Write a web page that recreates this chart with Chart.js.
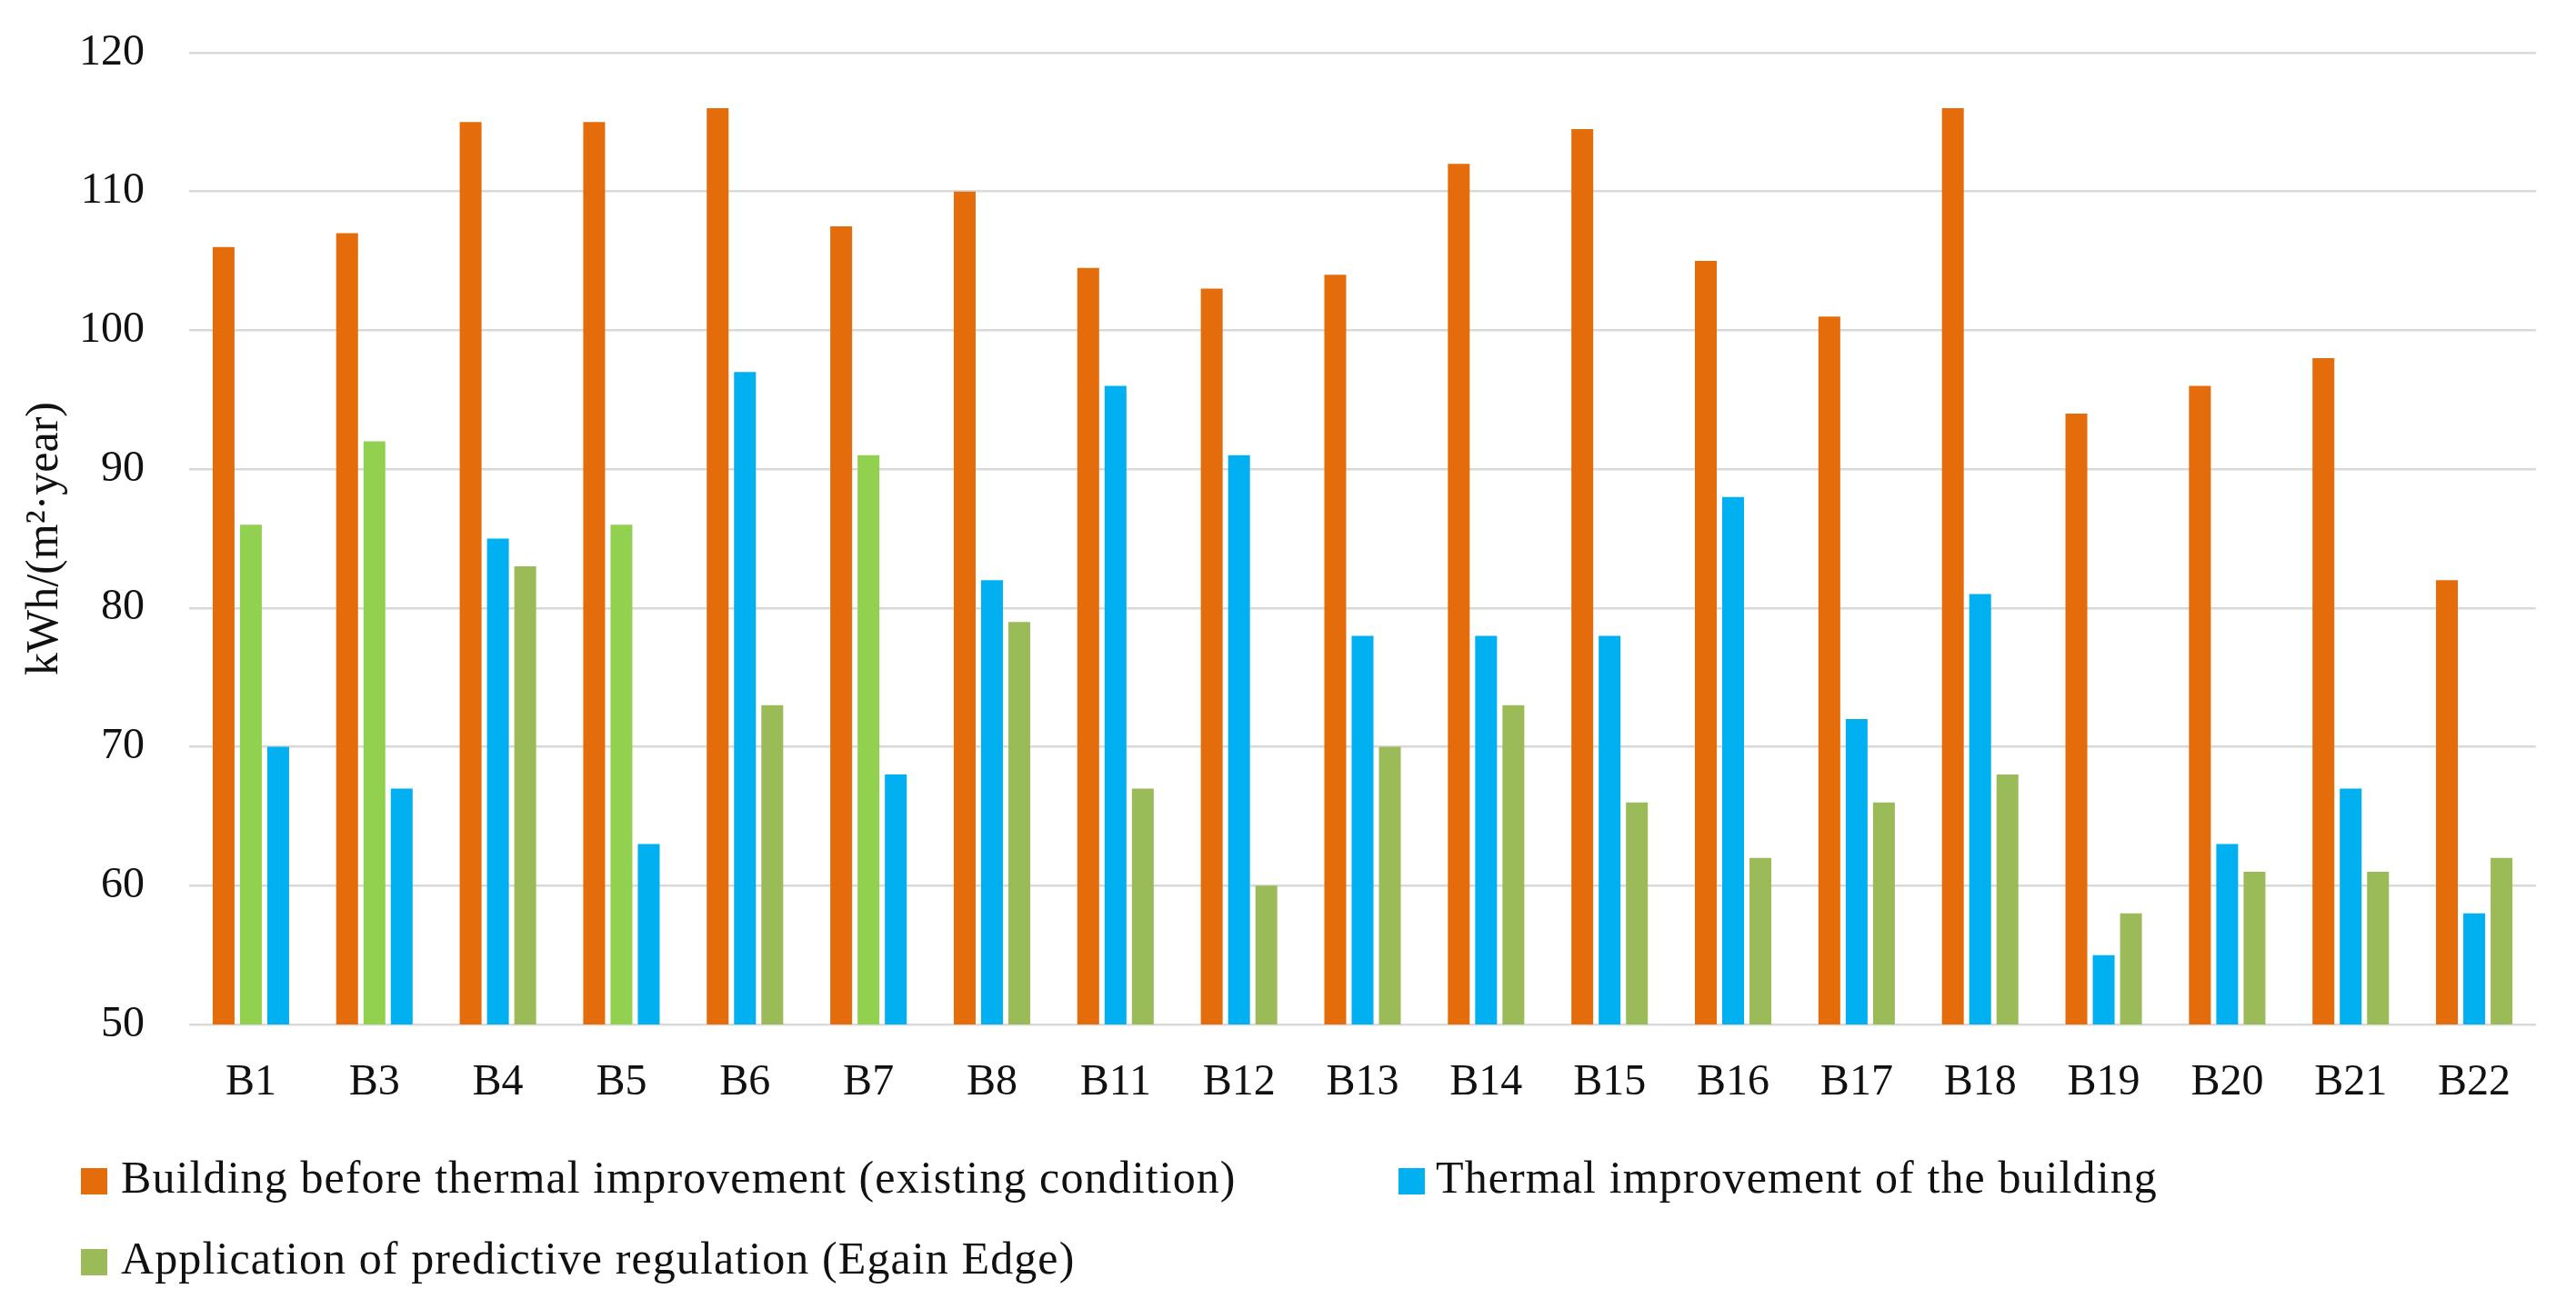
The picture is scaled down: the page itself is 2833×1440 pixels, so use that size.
<!DOCTYPE html>
<html>
<head>
<meta charset="utf-8">
<script src="https://cdn.jsdelivr.net/npm/chart.js@4.4.1/dist/chart.umd.min.js"></script>
<style>
  body { margin: 0; background: #fff; }
  #wrap { position: relative; width: 2833px; height: 1440px; }
  #chart { position: absolute; left: 0; top: 0; }
  .lg-box { position: absolute; width: 29px; height: 29px; }
  .lg-text { position: absolute; font-family: 'Liberation Serif', serif; font-size: 50px;
             line-height: 50px; letter-spacing: 1.1px; color: #111; white-space: nowrap; }
</style>
</head>
<body>
<div id="wrap">
  <canvas id="chart" width="2833" height="1440"></canvas>
  <div class="lg-box" style="left:89px; top:1285px; background:#E46C0A"></div>
  <div class="lg-text" id="lg1" style="left:133px; top:1270px"></div>
  <div class="lg-box" style="left:1538px; top:1285px; background:#00B0F0"></div>
  <div class="lg-text" id="lg2" style="left:1579px; top:1270px"></div>
  <div class="lg-box" style="left:89px; top:1374px; background:#9BBB59"></div>
  <div class="lg-text" id="lg3" style="left:133px; top:1359px"></div>
</div>
<script>
const buildings = ['B1', 'B3', 'B4', 'B5', 'B6', 'B7', 'B8', 'B11', 'B12', 'B13',
                   'B14', 'B15', 'B16', 'B17', 'B18', 'B19', 'B20', 'B21', 'B22'];
// left bar of each group
const beforeImprovement = [106, 107, 115, 115, 116, 107.5, 110, 104.5, 103, 104,
                           112, 114.5, 105, 101, 116, 94, 96, 98, 82];
// middle bar of each group
const thermalImprovement = [86, 92, 85, 86, 97, 91, 82, 96, 91, 78,
                            78, 78, 88, 72, 81, 55, 63, 67, 58];
// right bar of each group
const predictiveRegulation = [70, 67, 83, 63, 73, 68, 79, 67, 60, 70,
                              73, 66, 62, 66, 68, 58, 61, 61, 62];
const yTicks = [50, 60, 70, 80, 90, 100, 110, 120];

const seriesNames = [
  'Building before thermal improvement (existing condition)',
  'Thermal improvement of the building',
  'Application of predictive regulation (Egain Edge)'
];

// in these groups the original chart shows the light green bar in the middle
const greenFirst = ['B1', 'B3', 'B5', 'B7'];

const ORANGE = '#E46C0A', BLUE = '#00B0F0', OLIVE = '#9BBB59', LIGHT_GREEN = '#92D050';
const FONT = "'Liberation Serif', serif";

function swapped(ctx) {
  return ctx.type === 'data' && greenFirst.includes(buildings[ctx.dataIndex]);
}

document.getElementById('lg1').textContent = seriesNames[0];
document.getElementById('lg2').textContent = seriesNames[1];
document.getElementById('lg3').textContent = seriesNames[2];

const ctx = document.getElementById('chart').getContext('2d');
new Chart(ctx, {
  type: 'bar',
  data: {
    labels: buildings,
    datasets: [
      { label: seriesNames[0], data: beforeImprovement, backgroundColor: ORANGE },
      { label: seriesNames[1], data: thermalImprovement,
        backgroundColor: c => swapped(c) ? LIGHT_GREEN : BLUE },
      { label: seriesNames[2], data: predictiveRegulation,
        backgroundColor: c => swapped(c) ? BLUE : OLIVE }
    ]
  },
  options: {
    responsive: false,
    devicePixelRatio: 1,
    animation: false,
    categoryPercentage: 0.663,
    barPercentage: 0.8,
    layout: { padding: { left: 0, right: 44, top: 58, bottom: 0 } },
    plugins: { legend: { display: false }, tooltip: { enabled: false } },
    scales: {
      x: {
        grid: { display: false, drawTicks: false },
        border: { display: false },
        ticks: { color: '#111', font: { family: FONT, size: 48 }, padding: 36 },
        afterFit: s => { s.height = 313; }
      },
      y: {
        min: 50,
        max: 120,
        afterBuildTicks: s => { s.ticks = yTicks.map(v => ({ value: v })); },
        grid: { color: '#D9D9D9', lineWidth: 2.5, drawTicks: false },
        border: { display: false },
        ticks: { color: '#111', font: { family: FONT, size: 48 }, padding: 49 },
        title: {
          display: true,
          text: 'kWh/(m²·year)',
          color: '#111',
          font: { family: FONT, size: 50 },
          padding: { top: 20, bottom: 0 }
        },
        afterFit: s => {
          s.width = 208;
          // tick padding would otherwise push the plot top down
          s.paddingTop = 0;
          s.paddingBottom = 0;
        }
      }
    }
  }
});
</script>
</body>
</html>
